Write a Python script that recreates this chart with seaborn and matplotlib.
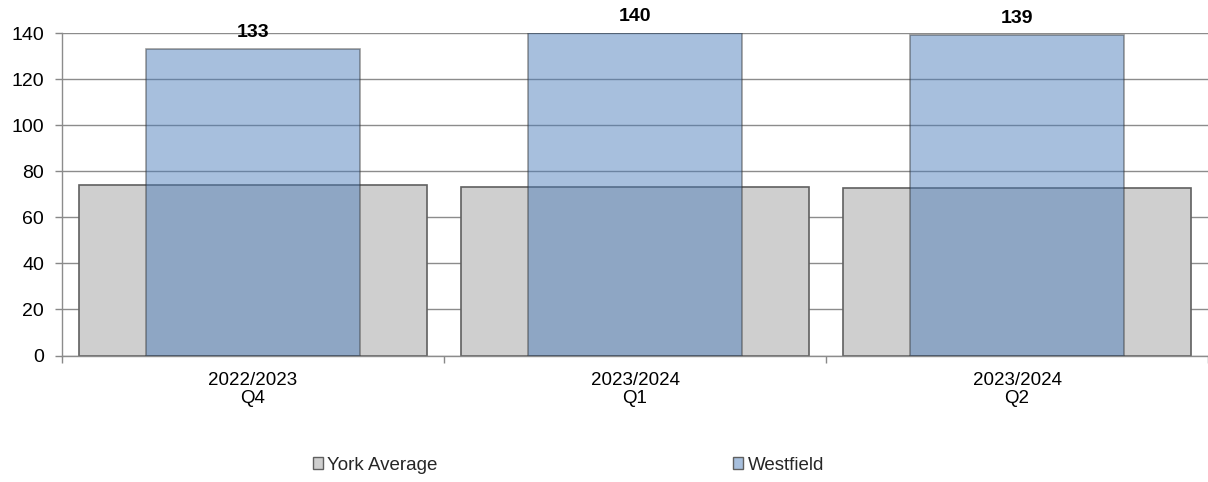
import matplotlib
matplotlib.use("Agg")
import matplotlib.pyplot as plt
import seaborn as sns
import numpy as np
import pandas as pd
from matplotlib.patches import Patch

categories = ["2022/2023\nQ4", "2023/2024\nQ1", "2023/2024\nQ2"]
york_average = [73.8, 73.0, 72.7]
westfield = [133, 140, 139]
westfield_labels = ["133", "140", "139"]
yticks = [0, 20, 40, 60, 80, 100, 120, 140]

sns.set_theme(style="white")
plt.rcParams['font.family'] = ['Liberation Sans', 'DejaVu Sans']

fig = plt.figure(figsize=(12.08, 4.82), dpi=100)
ax = fig.add_axes([62/1208, 1-355.5/482, 1-62/1208, (355.5-33)/482])

df = pd.DataFrame({"cat": categories, "york": york_average, "west": westfield})

grey = "#CFCFCF"
blue = (72/255, 122/255, 184/255)
edge = "#606060"

sns.barplot(data=df, x="cat", y="york", ax=ax, width=0.91, color=grey,
            edgecolor=edge, linewidth=1.2, saturation=1, zorder=2)
sns.barplot(data=df, x="cat", y="west", ax=ax, width=0.56, color=blue,
            edgecolor=(0.2, 0.2, 0.2), linewidth=1.2, saturation=1, alpha=0.48, zorder=3)

for i, (v, lab) in enumerate(zip(westfield, westfield_labels)):
    ax.text(i, v + 3.6, lab, ha="center", va="bottom", fontsize=14,
            fontweight="bold", color="black", zorder=5, clip_on=False)

ax.set_xlim(-0.5, 2.5)
ax.set_ylim(0, 140)
ax.set_yticks(yticks)
ax.set_yticklabels([str(t) for t in yticks], fontsize=14, color="black")
ax.set_xticks(range(len(categories)))
ax.set_xticklabels(categories, fontsize=13.5, color="black", linespacing=1.1)
ax.tick_params(axis="x", length=0, pad=12)
ax.tick_params(axis="y", length=5, color="#888888", width=1, left=True, pad=8)
ax.set_xticks([-0.5, 0.5, 1.5, 2.5], minor=True)
ax.tick_params(axis="x", which="minor", length=5, color="#888888", width=1, bottom=True)

ax.yaxis.grid(True, color="#8C8C8C", linewidth=1, zorder=0)
ax.set_axisbelow(True)
for s in ["top", "right"]:
    ax.spines[s].set_visible(False)
for s in ["left", "bottom"]:
    ax.spines[s].set_color("#8C8C8C")
    ax.spines[s].set_linewidth(1)
ax.set_xlabel("")
ax.set_ylabel("")

h1 = [Patch(facecolor=grey, edgecolor=edge, linewidth=1)]
h2 = [Patch(facecolor=(167/255, 191/255, 221/255), edgecolor=edge, linewidth=1)]
common = dict(frameon=False, fontsize=13.5, handlelength=0.55, handleheight=0.55,
              handletextpad=0.22, borderpad=0, borderaxespad=0, loc="center left")
fig.legend(h1, ["York Average"], bbox_to_anchor=(313/1208, 1-465/482), **common)
fig.legend(h2, ["Westfield"], bbox_to_anchor=(733/1208, 1-465/482), **common)

fig.savefig("out.png", dpi=100)
